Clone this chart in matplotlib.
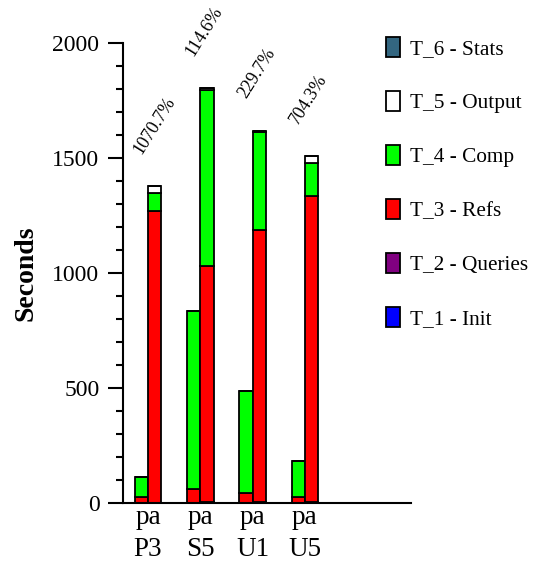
import matplotlib
matplotlib.use("Agg")
import matplotlib.pyplot as plt
import numpy as np
from matplotlib.patches import Patch

plt.rcParams["font.family"] = ["Liberation Serif", "DejaVu Serif"]

# ---------- данные ----------
tests = ["P3", "S5", "U1", "U5"]
runs = ["p", "a"]
speedups = ["1070.7%", "114.6%", "229.7%", "704.3%"]

stage_names = ["T_1 - Init", "T_2 - Queries", "T_3 - Refs",
               "T_4 - Comp", "T_5 - Output", "T_6 - Stats"]
stage_colors = ["#0000ff", "#800080", "#ff0000", "#00ff00", "#ffffff", "#336680"]

# run "p"
p_init = [0, 0, 0, 0]
p_queries = [0, 0, 0, 0]
p_refs = [27, 64, 47, 27]
p_comp = [88, 772, 441, 157]
p_output = [0, 0, 0, 0]
p_stats = [0, 0, 0, 0]

# run "a"
a_init = [1, 3, 3, 3]
a_queries = [1, 3, 3, 3]
a_refs = [1268, 1026, 1184, 1330]
a_comp = [77, 766, 424, 145]
a_output = [33, 8, 6, 29]
a_stats = [0, 0, 0, 0]
# ----------------------------

p_stack = [p_init, p_queries, p_refs, p_comp, p_output, p_stats]
a_stack = [a_init, a_queries, a_refs, a_comp, a_output, a_stats]

fig = plt.figure(figsize=(5.36, 5.63), dpi=100)
ax = fig.add_axes([0.2295, 0.1057, 0.5373, 0.8179])

x = np.arange(len(tests))
w = 0.254
for offs, stack in ((-w / 2, p_stack), (w / 2, a_stack)):
    bottom = np.zeros(len(tests))
    for vals, col in zip(stack, stage_colors):
        vals = np.array(vals, dtype=float)
        ax.bar(x + offs, vals, w, bottom=bottom, color=col,
               edgecolor="black", linewidth=1.3, zorder=2)
        bottom += vals

# подписи ускорения над столбцами
a_total = np.sum(np.array(a_stack), axis=0)
for i, lab in enumerate(speedups):
    ax.text(x[i] - 0.13, a_total[i] + 135, lab, rotation=58,
            rotation_mode="anchor", ha="left", va="baseline", fontsize=13)

ax.set_xlim(-0.478, 5.03)
ax.set_ylim(0, 2000)
ax.spines["top"].set_visible(False)
ax.spines["right"].set_visible(False)
ax.spines["left"].set_linewidth(1.5)
ax.spines["bottom"].set_linewidth(1.5)

ax.set_yticks(np.arange(0, 2001, 500))
ax.set_yticks(np.arange(0, 2001, 100), minor=True)
ax.tick_params(axis="y", which="major", length=11, width=1.5, labelsize=17, pad=6)
ax.tick_params(axis="y", which="minor", length=5, width=1.5)
ax.set_ylabel("Seconds", fontsize=20, fontweight="bold", labelpad=10)

ax.set_xticks(x)
ax.set_xticklabels(["".join(runs) + "\n" + t for t in tests], fontsize=19.5,
                   linespacing=1.4)
ax.tick_params(axis="x", length=0, pad=1)

handles = [Patch(facecolor=c, edgecolor="black", linewidth=1.3, label=n)
           for n, c in zip(stage_names, stage_colors)]
ax.legend(handles=handles[::-1], loc="upper left",
          bbox_to_anchor=(386 / 536, 1 - 37 / 563), bbox_transform=fig.transFigure,
          frameon=False, fontsize=15.3, handlelength=0.66, handleheight=1.06,
          handletextpad=0.45, labelspacing=1.5, borderaxespad=0, borderpad=0)

fig.savefig("out.png", dpi=100)
